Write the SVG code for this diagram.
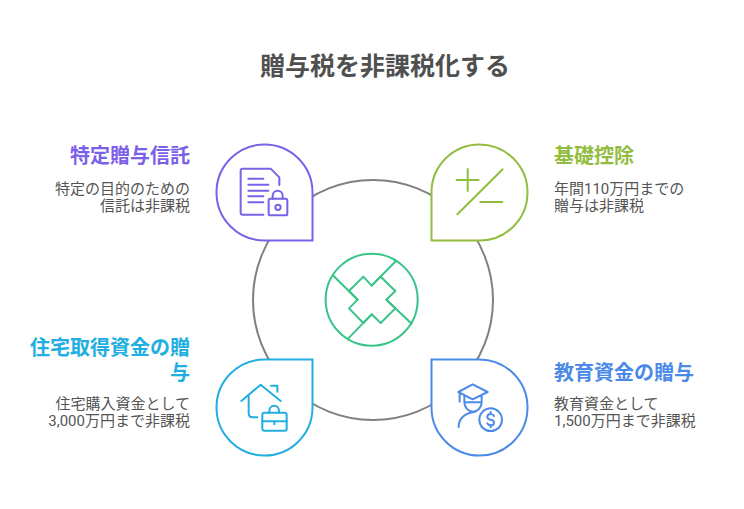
<svg xmlns="http://www.w3.org/2000/svg" width="744" height="509" viewBox="0 0 744 509">
<style>
text{font-family:Roboto,"Noto Sans CJK JP",sans-serif}
.t{font-size:25px;font-weight:700;fill:#505050;text-anchor:middle}
.h{font-size:20px;font-weight:700}
.b{font-size:15px;fill:#555}
.e{text-anchor:end}
.s{fill:#fff;stroke-width:2}
.i{fill:none;stroke-width:6;stroke-linecap:round;stroke-linejoin:round}
.pu{stroke:#7b61e8}.gr{stroke:#93bd3f}.cy{stroke:#22aee0}.bl{stroke:#4c8ae8}.mi{stroke:#38c489}
</style>
<rect width="744" height="509" fill="#fff"/>
<text class="t" x="385" y="75">贈与税を非課税化する</text>
<g id="connectors"><circle cx="373" cy="300" r="120" fill="none" stroke="#808080" stroke-width="2"/></g>
<g id="center">
<g transform="translate(315 245) scale(.33333)" class="i mi">
<circle cx="170" cy="164" r="138"/>
<path d="M145 95L170 122L197 95L241 138L214 164L241 190L197 234L170 208L145 234L102 190L128 164L102 138Z"/>
<path d="M55 92L128 164M243 48L170 122M290 236L214 164M100 280L170 208"/>
</g>
</g>
<g id="node-trust">
<path class="s pu" d="M312.500 240.500H264.500A48 48 0 1 1 312.500 192.500Z"/>
<g transform="translate(200 130) scale(.33333)" class="i pu">
<path d="M190 254H128Q122 254 122 248V122Q122 116 128 116H212L238 142V165"/>
<path d="M145 146H190M145 164H205M145 182H205M145 199H190M145 217H190"/>
<rect x="206" y="206" width="56" height="50" rx="5"/>
<path d="M218 206V197A15 15 0 0 1 248 197V206"/>
<circle cx="234" cy="232" r="8"/>
</g>
<text class="h e" x="190" y="163" fill="#7b61e8">特定贈与信託</text>
<text class="b e" x="190" y="194">特定の目的のための</text>
<text class="b e" x="190" y="211">信託は非課税</text>
</g>
<g id="node-basic">
<path class="s gr" d="M431.500 240.500H479.500A48 48 0 1 0 431.500 192.500Z"/>
<g transform="translate(420 130) scale(.33333)" class="i gr">
<path d="M110 150H176M143 117V183M248 118L112 253M181 216H247"/>
</g>
<text class="h" x="554" y="163" fill="#93bd3f">基礎控除</text>
<text class="b" x="554" y="194">年間110万円までの</text>
<text class="b" x="554" y="211">贈与は非課税</text>
</g>
<g id="node-housing">
<path class="s cy" d="M312.500 359.500H264.500A48 48 0 1 0 312.500 407.500Z"/>
<g transform="translate(200 345) scale(.33333)" class="i cy">
<path d="M124 168L182 119L242 168M146 150V205Q146 217 158 217H172M213 122H232V140"/>
<rect x="187" y="203" width="73" height="54" rx="6"/>
<path d="M187 229H260M223 229V238M208 203V197A14.500 14.500 0 0 1 237 197V203"/>
</g>
<text class="h e" x="190" y="355" fill="#22aee0">住宅取得資金の贈</text>
<text class="h e" x="190" y="380" fill="#22aee0">与</text>
<text class="b e" x="190" y="409">住宅購入資金として</text>
<text class="b e" x="190" y="426">3,000万円まで非課税</text>
</g>
<g id="node-education">
<path class="s bl" d="M431.500 359.500H479.500A48 48 0 1 1 431.500 407.500Z"/>
<g transform="translate(420 345) scale(.33333)" class="i bl">
<path d="M115 141L158 118L203 141L158 163ZM119 142V170M133 150V172A26 28 0 0 0 185 172V150M135 172H183"/>
<path d="M116 246C116 222 132 205 165 200"/>
<circle cx="212" cy="224" r="34"/>
<path d="M222 213Q219 207 212 207Q202 207 202 215Q202 223 212 224Q222 225 222 233Q222 241 212 241Q205 241 202 235M212 201V207M212 241V247"/>
</g>
<text class="h" x="554" y="380" fill="#4c8ae8">教育資金の贈与</text>
<text class="b" x="554" y="409">教育資金として</text>
<text class="b" x="554" y="426">1,500万円まで非課税</text>
</g>
</svg>
